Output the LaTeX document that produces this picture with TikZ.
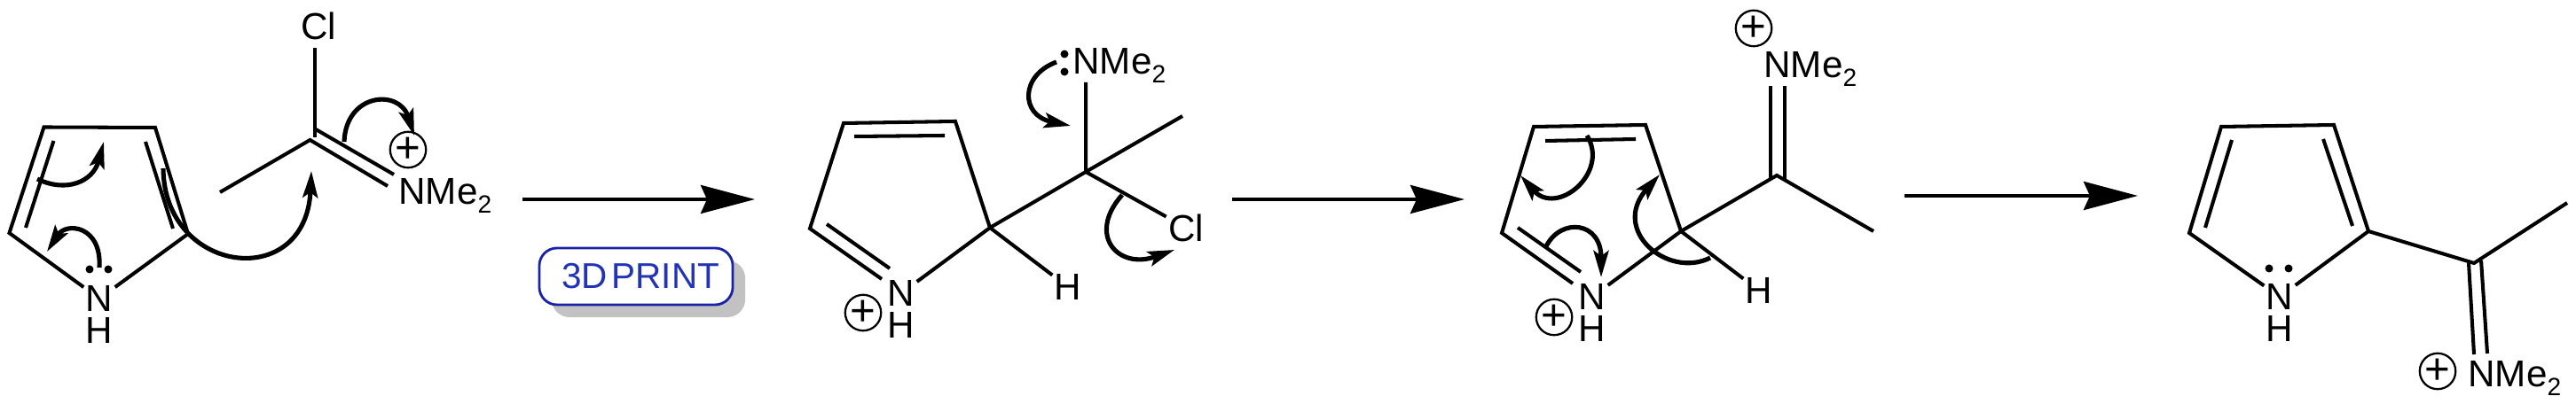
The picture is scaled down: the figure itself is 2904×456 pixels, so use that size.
\documentclass[tikz,border=0pt]{standalone}
\usepackage{fontspec}
\setmainfont{Liberation Sans}
\usepackage{xcolor}
\usetikzlibrary{arrows.meta, positioning, shadows}
\definecolor{printblue}{HTML}{1A22A8}
\definecolor{printtext}{HTML}{2233B5}
\definecolor{printshadow}{HTML}{C2C2C2}
\tikzstyle{atom} = [inner sep=0.5pt, font=\fontsize{12}{14}\selectfont]
\tikzstyle{group} = [atom, anchor=base west]
\tikzstyle{charge} = [circle, draw=black, line width=0.65pt, minimum size=0.39cm, inner sep=0pt, font=\fontsize{14}{14}\selectfont]
\tikzstyle{lonepair} = [circle, fill=black, minimum size=0.09cm, inner sep=0pt]
\tikzstyle{bond} = [line width=1.15pt, line join=miter]
\tikzstyle{arrow} = [line width=1.15pt, -{Stealth[length=0.61cm, width=0.32cm, inset=0.07cm]}]
\tikzstyle{curly} = [line width=1.45pt, -{Stealth[length=0.3cm, width=0.17cm, inset=0.06cm]}]
\tikzstyle{printbox} = [rectangle, rounded corners=0.2cm, minimum width=2.18cm, minimum height=0.64cm, draw=printblue, line width=0.8pt, fill=white, text=printtext, font=\fontsize{11.5}{13}\selectfont, drop shadow={shadow xshift=0.14cm, shadow yshift=-0.14cm, fill=printshadow, opacity=1}]
\newcommand{\nmetwo}{NMe\raisebox{-0.1cm}{\fontsize{8}{8}\selectfont 2}}
\begin{document}
\begin{tikzpicture}[x=0.01cm, y=-0.01cm, node distance=0.36cm]
\useasboundingbox (0,0) rectangle (2904,456);

% Nodes for the first molecule
\node (n1) [atom] at (112,337) {N};
\node (h1) [atom, below of=n1] {H};
\node (cl1) [atom] at (359,29) {Cl};
\node (nme1) [group] at (447,231) {\nmetwo};
\node (plus1) [charge] at (460,169) {+};
\node (lp1a) [lonepair] at (101,304) {};
\node (lp1b) [lonepair] at (122,304) {};
\coordinate (r1tl) at (49.5,143.5);
\coordinate (r1tr) at (175,144);
\coordinate (r1r) at (212,264);
\coordinate (r1l) at (10.5,263);
\coordinate (d1a) at (60.5,159);
\coordinate (d1b) at (29,257);
\coordinate (d1c) at (164,160);
\coordinate (d1d) at (195,258);
\coordinate (c1) at (349.5,158);
\coordinate (c1up) at (356,146);
\coordinate (c1v) at (355,155);
\coordinate (me1) at (248,217);
\coordinate (cl1end) at (355,54);
\coordinate (nme1a) at (444,197);
\coordinate (nme1b) at (437,210);

% Nodes for the second molecule
\node (n2) [atom] at (1016,331) {N};
\node (h2) [atom, below of=n2] {H};
\node (plus2) [charge] at (973,353) {+};
\node (hb2) [atom] at (1204,324) {H};
\node (cl2) [atom] at (1337,257) {Cl};
\node (nme2) [group] at (1207,84) {\nmetwo};
\node (lp2a) [lonepair] at (1200,61) {};
\node (lp2b) [lonepair] at (1200,81) {};
\coordinate (r2tl) at (951,139);
\coordinate (r2tr) at (1077,137);
\coordinate (r2r) at (1116,257);
\coordinate (r2l) at (913,258);
\coordinate (d2a) at (963,154);
\coordinate (d2b) at (1065,153);
\coordinate (d2c) at (932,253);
\coordinate (d2d) at (1003,303);
\coordinate (d2e) at (994,315);
\coordinate (c2) at (1224,194);
\coordinate (me2) at (1333,131);
\coordinate (nme2end) at (1224,93);

% Nodes for the third molecule
\node (n3) [atom] at (1795,335) {N};
\node (h3) [atom, below of=n3] {H};
\node (plus3) [charge] at (1752,358) {+};
\node (hb3) [atom] at (1983,328) {H};
\node (nme3) [group] at (1986,88) {\nmetwo};
\node (plus3b) [charge] at (1977,32) {+};
\coordinate (r3tl) at (1729,143);
\coordinate (r3tr) at (1855,141);
\coordinate (r3r) at (1895,261);
\coordinate (r3l) at (1693,263);
\coordinate (d3a) at (1742,159);
\coordinate (d3b) at (1844,157);
\coordinate (d3c) at (1711,257);
\coordinate (d3d) at (1782,307);
\coordinate (d3e) at (1773,320);
\coordinate (c3) at (2003,198);
\coordinate (me3) at (2112,261);
\coordinate (nme3a) at (1996,97);
\coordinate (nme3b) at (1996,202);
\coordinate (nme3c) at (2012,97);
\coordinate (nme3d) at (2012,202);

% Nodes for the fourth molecule
\node (n4) [atom] at (2570,335) {N};
\node (h4) [atom, below of=n4] {H};
\node (nme4) [group] at (2780,437) {\nmetwo};
\node (plus4) [charge] at (2748,419) {+};
\node (lp4a) [lonepair] at (2558,303) {};
\node (lp4b) [lonepair] at (2580,303) {};
\coordinate (r4tl) at (2504,143);
\coordinate (r4tr) at (2631,141);
\coordinate (r4r) at (2670,261);
\coordinate (r4l) at (2468,263);
\coordinate (d4a) at (2516,158);
\coordinate (d4b) at (2486,257);
\coordinate (d4c) at (2619,157);
\coordinate (d4d) at (2652,255);
\coordinate (c4) at (2789,297);
\coordinate (me4) at (2894,229);
\coordinate (nme4a) at (2783,297);
\coordinate (nme4b) at (2789,400);
\coordinate (nme4c) at (2797,294);
\coordinate (nme4d) at (2804,399);

% Reagent tag
\node (print) [printbox] at (717,312) {\hspace{0.1cm}3D\hspace{0.05cm}PRINT};

% Bonds of the first molecule
\draw [bond] (n1) -- (r1l) -- (r1tl) -- (r1tr) -- (r1r) -- (n1);
\draw [bond] (d1a) -- (d1b);
\draw [bond] (d1c) -- (d1d);
\draw [bond] (me1) -- (c1) -- (nme1b);
\draw [bond] (c1up) -- (nme1a);
\draw [bond] (cl1end) -- (c1v);

% Bonds of the second molecule
\draw [bond] (n2) -- (r2r) -- (r2tr) -- (r2tl) -- (r2l) -- (d2e);
\draw [bond] (d2a) -- (d2b);
\draw [bond] (d2c) -- (d2d);
\draw [bond] (r2r) -- (c2) -- (me2);
\draw [bond] (nme2end) -- (c2) -- (cl2);
\draw [bond] (r2r) -- (hb2);

% Bonds of the third molecule
\draw [bond] (n3) -- (r3r) -- (r3tr) -- (r3tl) -- (r3l) -- (d3e);
\draw [bond] (d3a) -- (d3b);
\draw [bond] (d3c) -- (d3d);
\draw [bond] (r3r) -- (c3) -- (me3);
\draw [bond] (nme3a) -- (nme3b);
\draw [bond] (nme3c) -- (nme3d);
\draw [bond] (r3r) -- (hb3);

% Bonds of the fourth molecule
\draw [bond] (n4) -- (r4l) -- (r4tl) -- (r4tr) -- (r4r) -- (n4);
\draw [bond] (d4a) -- (d4b);
\draw [bond] (d4c) -- (d4d);
\draw [bond] (r4r) -- (c4) -- (me4);
\draw [bond] (nme4a) -- (nme4b);
\draw [bond] (nme4c) -- (nme4d);

% Reaction arrows
\coordinate (step1a) at (589,225);
\coordinate (step1b) at (851,225);
\coordinate (step2a) at (1389,225);
\coordinate (step2b) at (1651,225);
\coordinate (step3a) at (2147,221);
\coordinate (step3b) at (2410,221);
\draw [arrow] (step1a) -- (step1b);
\draw [arrow] (step2a) -- (step2b);
\draw [arrow] (step3a) -- (step3b);

% Electron pushing, first molecule
\coordinate (push1a) at (388,160);
\coordinate (push1b) at (467,153);
\coordinate (push1c) at (184,190);
\coordinate (push1d) at (351,193);
\coordinate (push1e) at (42,202);
\coordinate (push1f) at (117,160);
\coordinate (push1g) at (112,302);
\coordinate (push1h) at (53,284);
\draw [curly] (push1a) .. controls (390,105) and (450,100) .. (push1b);
\draw [curly] (push1c) .. controls (185,310) and (345,330) .. (push1d);
\draw [curly] (push1e) .. controls (75,218) and (105,205) .. (push1f);
\draw [curly] (push1g) .. controls (115,255) and (75,250) .. (push1h);

% Electron pushing, second molecule
\coordinate (push2a) at (1191,70);
\coordinate (push2b) at (1207,142);
\coordinate (push2c) at (1265,220);
\coordinate (push2d) at (1324,282);
\draw [curly] (push2a) .. controls (1150,85) and (1150,130) .. (push2b);
\draw [curly] (push2c) .. controls (1225,265) and (1260,305) .. (push2d);

% Electron pushing, third molecule
\coordinate (push3a) at (1789,153);
\coordinate (push3b) at (1714,198);
\coordinate (push3c) at (1743,278);
\coordinate (push3d) at (1805,313);
\coordinate (push3e) at (1928,291);
\coordinate (push3f) at (1871,197);
\draw [curly] (push3a) .. controls (1815,195) and (1755,245) .. (push3b);
\draw [curly] (push3c) .. controls (1760,245) and (1805,250) .. (push3d);
\draw [curly] (push3e) .. controls (1880,315) and (1815,260) .. (push3f);

\end{tikzpicture}
\end{document}
